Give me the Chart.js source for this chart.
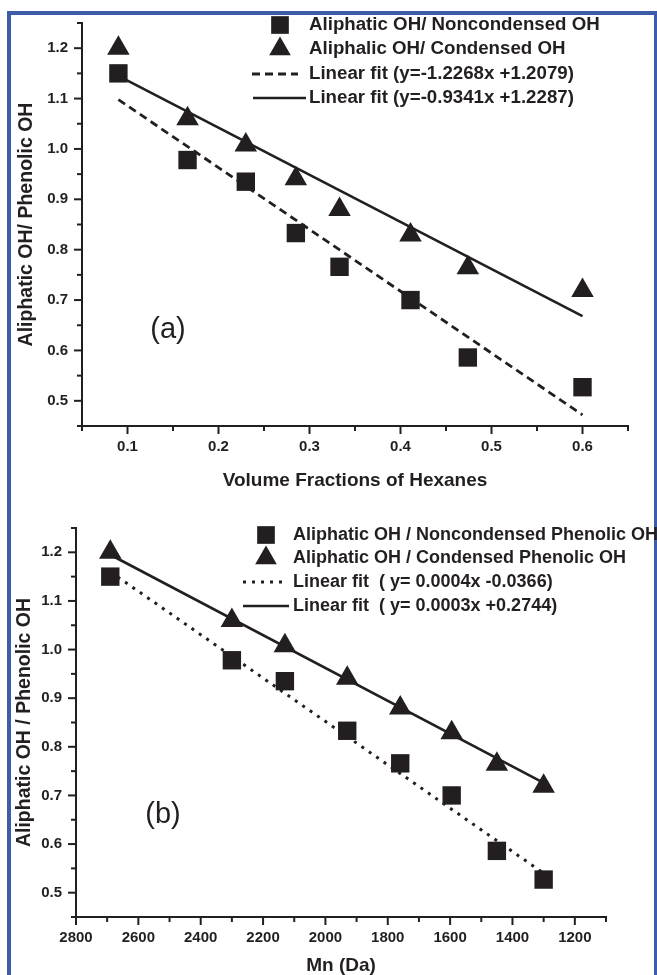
<!DOCTYPE html>
<html><head><meta charset="utf-8">
<script src="https://cdn.jsdelivr.net/npm/chart.js@4.4.1/dist/chart.umd.min.js"></script>
<style>
html,body{margin:0;padding:0;background:#fff;}
body{width:657px;height:975px;position:relative;overflow:hidden;}
#frame{position:absolute;left:7px;top:11px;width:651px;height:1000px;border:4px solid #3d5da8;box-sizing:border-box;}
canvas{position:absolute;left:0;}
#ca{top:0}
#cb{top:490px}
</style></head><body>
<div id="frame"></div>
<canvas id="ca" width="657" height="490"></canvas>
<canvas id="cb" width="657" height="485"></canvas>
<script>
const INK = '#231f20';
const FONT = '"Liberation Sans", Arial, Helvetica, sans-serif';

// ---- panel (a): ratio vs volume fraction of hexanes ----
const hexaneFraction = [0.09, 0.166, 0.23, 0.285, 0.333, 0.411, 0.474, 0.60];
const ratioNoncondensed = [1.150, 0.978, 0.935, 0.833, 0.766, 0.700, 0.586, 0.527];
const ratioCondensed = [1.200, 1.060, 1.008, 0.941, 0.880, 0.829, 0.764, 0.719];
const fitRangeA = [0.09, 0.60];
const fitNoncondensedA = [1.098, 0.472];
const fitCondensedA = [1.145, 0.668];
const legendA = ['Aliphatic OH/ Noncondensed OH', 'Aliphalic OH/ Condensed OH',
                 'Linear fit (y=-1.2268x +1.2079)', 'Linear fit (y=-0.9341x +1.2287)'];

// ---- panel (b): ratio vs Mn ----
const mnDa = [2690, 2300, 2130, 1930, 1760, 1595, 1450, 1300];
const fitRangeB = [2690, 1300];
const fitNoncondensedB = [1.160, 0.540];
const fitCondensedB = [1.195, 0.726];
const legendB = ['Aliphatic OH / Noncondensed Phenolic OH', 'Aliphatic OH / Condensed Phenolic OH',
                 'Linear fit  ( y= 0.0004x -0.0366)', 'Linear fit  ( y= 0.0003x +0.2744)'];

// ---- ticks ----
const yMajor = [0.5, 0.6, 0.7, 0.8, 0.9, 1.0, 1.1, 1.2];
const yMinor = [0.45, 0.55, 0.65, 0.75, 0.85, 0.95, 1.05, 1.15, 1.25];
const xMajorA = [0.1, 0.2, 0.3, 0.4, 0.5, 0.6];
const xMinorA = [0.05, 0.15, 0.25, 0.35, 0.45, 0.55, 0.65];
const xMajorB = [2800, 2600, 2400, 2200, 2000, 1800, 1600, 1400, 1200];
const xMinorB = [2700, 2500, 2300, 2100, 1900, 1700, 1500, 1300, 1100];

const pts = (xs, ys) => xs.map((x, i) => ({x, y: ys[i]}));

const tickPlugin = {
  id: 'mmTicks',
  afterDraw(chart, args, o) {
    const ctx = chart.ctx, xs = chart.scales.x, ys = chart.scales.y;
    ctx.save();
    ctx.strokeStyle = INK; ctx.lineWidth = 2; ctx.lineCap = 'butt';
    const hx = (vals, len) => vals.forEach(v => { const p = xs.getPixelForValue(v);
      ctx.beginPath(); ctx.moveTo(p, xs.top); ctx.lineTo(p, xs.top + len); ctx.stroke(); });
    const vy = (vals, len) => vals.forEach(v => { const p = ys.getPixelForValue(v);
      ctx.beginPath(); ctx.moveTo(ys.right, p); ctx.lineTo(ys.right - len, p); ctx.stroke(); });
    hx(o.xMajor, 8); hx(o.xMinor, 5); vy(yMajor, 8); vy(yMinor, 5);
    ctx.restore();
  }
};

const legendPlugin = {
  id: 'figLegend',
  afterDraw(chart, args, o) {
    const ctx = chart.ctx;
    ctx.save();
    ctx.font = o.font;
    ctx.textBaseline = 'middle';
    ctx.fillStyle = INK; ctx.strokeStyle = INK;
    chart.data.datasets.forEach((ds, i) => {
      const y = o.rows[i];
      if (ds.showLine) {
        ctx.lineWidth = ds.borderWidth;
        ctx.setLineDash(ds.borderDash || []);
        ctx.beginPath(); ctx.moveTo(o.lineX[i][0], y); ctx.lineTo(o.lineX[i][1], y); ctx.stroke();
        ctx.setLineDash([]);
      } else {
        Chart.helpers.drawPoint(ctx, {pointStyle: ds.pointStyle, radius: o.markR, borderWidth: 0}, o.markX, y);
      }
      ctx.fillText(ds.label, o.textX, y);
    });
    ctx.font = o.tagFont;
    ctx.textAlign = 'center';
    ctx.fillText(o.tag, o.tagX, o.tagY);
    ctx.restore();
  }
};

function makeChart(id, cfg) {
  const tickFont = {family: FONT, size: 15, weight: 'bold'};
  return new Chart(document.getElementById(id), {
    type: 'scatter',
    data: {datasets: [
      {label: cfg.labels[0], data: pts(cfg.x, ratioNoncondensed), pointStyle: 'rect', pointRadius: 13,
       backgroundColor: INK, borderColor: INK, borderWidth: 0, order: 1},
      {label: cfg.labels[1], data: pts(cfg.x, ratioCondensed), pointStyle: 'triangle', pointRadius: 13,
       backgroundColor: INK, borderColor: INK, borderWidth: 0, order: 1},
      {label: cfg.labels[2], data: pts(cfg.fitX, cfg.fitNon), showLine: true, pointRadius: 0,
       borderColor: INK, borderWidth: cfg.dashW, borderDash: cfg.dash, order: 2},
      {label: cfg.labels[3], data: pts(cfg.fitX, cfg.fitCon), showLine: true, pointRadius: 0,
       borderColor: INK, borderWidth: 2.6, borderDash: [], order: 2}
    ]},
    options: {
      responsive: false, animation: false, devicePixelRatio: 1,
      layout: {padding: cfg.pad},
      plugins: {
        legend: {display: false}, tooltip: {enabled: false},
        mmTicks: {xMajor: cfg.xMajor, xMinor: cfg.xMinor},
        figLegend: cfg.legend
      },
      scales: {
        x: {
          type: 'linear', min: cfg.xMin, max: cfg.xMax, reverse: cfg.reverse,
          afterFit: s => { s.height = cfg.xH; },
          afterBuildTicks: s => { s.ticks = cfg.xMajor.map(v => ({value: v})); },
          grid: {display: false, drawTicks: true, tickLength: 8},
          border: {display: true, color: INK, width: 2},
          ticks: {font: tickFont, color: INK, padding: 4, maxRotation: 0, autoSkip: false,
                  callback: v => cfg.xFmt(v)},
          title: {display: true, text: cfg.xTitle, color: INK,
                  font: {family: FONT, size: 19, weight: 'bold', lineHeight: 1},
                  padding: {top: 0, bottom: 0}}
        },
        y: {
          type: 'linear', min: 0.45, max: 1.25,
          afterFit: s => { s.width = cfg.yW; },
          afterBuildTicks: s => { s.ticks = yMajor.map(v => ({value: v})); },
          grid: {display: false, drawTicks: true, tickLength: 8},
          border: {display: true, color: INK, width: 2},
          ticks: {font: tickFont, color: INK, padding: 6, autoSkip: false,
                  callback: v => v.toFixed(1)},
          title: {display: true, text: cfg.yTitle, color: INK,
                  font: {family: FONT, size: 19.5, weight: 'bold', lineHeight: 1.2},
                  padding: {top: cfg.yTitlePad, bottom: 0}}
        }
      }
    },
    plugins: [tickPlugin, legendPlugin]
  });
}

makeChart('ca', {
  x: hexaneFraction, fitX: fitRangeA, fitNon: fitNoncondensedA, fitCon: fitCondensedA,
  labels: legendA, dash: [8, 5], dashW: 2.8,
  xMin: 0.05, xMax: 0.65, reverse: false, xMajor: xMajorA, xMinor: xMinorA,
  xFmt: v => v.toFixed(1), xH: 64, yW: 82, pad: {left: 0, top: 23, right: 29, bottom: 0},
  xTitle: 'Volume Fractions of Hexanes', yTitle: 'Aliphatic OH/ Phenolic OH', yTitlePad: 15,
  legend: {font: 'bold 18.7px ' + FONT, rows: [25, 49, 74, 98], markX: 280, markR: 12.5,
           lineX: [null, null, [252, 298], [253, 306]], textX: 309,
           tagFont: '29px ' + FONT, tag: '(a)', tagX: 168, tagY: 330}
});

makeChart('cb', {
  x: mnDa, fitX: fitRangeB, fitNon: fitNoncondensedB, fitCon: fitCondensedB,
  labels: legendB, dash: [3, 6], dashW: 3,
  xMin: 1100, xMax: 2800, reverse: true, xMajor: xMajorB, xMinor: xMinorB,
  xFmt: v => String(v), xH: 58, yW: 76, pad: {left: 0, top: 38, right: 51, bottom: 0},
  xTitle: 'Mn (Da)', yTitle: 'Aliphatic OH / Phenolic OH', yTitlePad: 13,
  legend: {font: 'bold 18px ' + FONT, rows: [45, 68, 92, 116], markX: 266, markR: 12.5,
           lineX: [null, null, [243, 283], [243, 289]], textX: 293,
           tagFont: '29px ' + FONT, tag: '(b)', tagX: 163, tagY: 325}
});
</script></body></html>
